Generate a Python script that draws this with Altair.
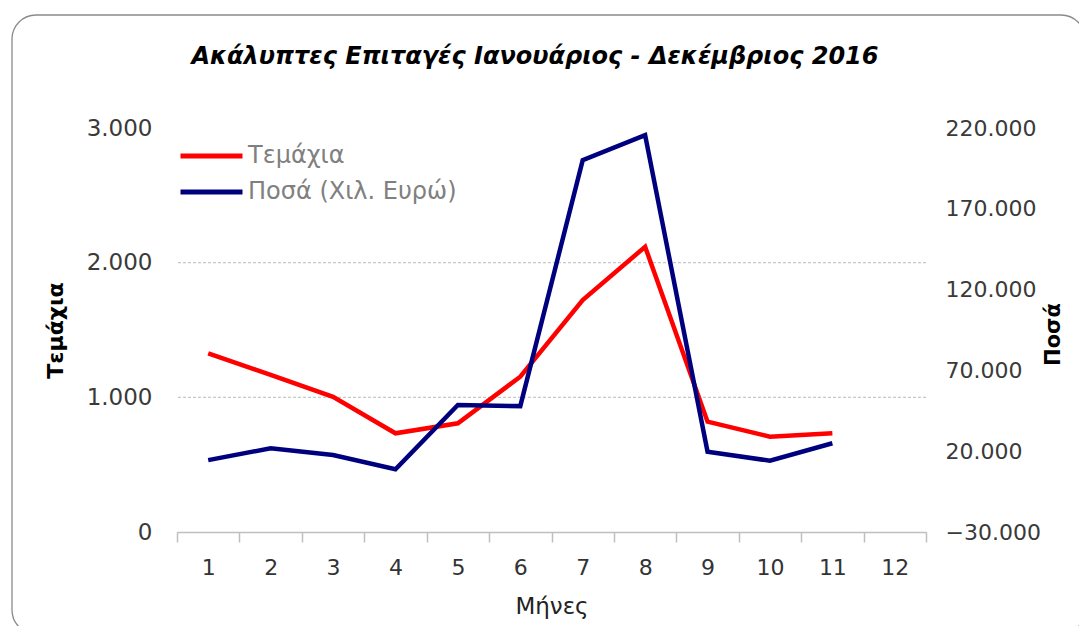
import altair as alt
import pandas as pd

# ---- data ----
months_all = [1, 2, 3, 4, 5, 6, 7, 8, 9, 10, 11, 12]
months = [1, 2, 3, 4, 5, 6, 7, 8, 9, 10, 11]
temaxia = [1327, 1166, 1004, 733, 807, 1153, 1722, 2118, 819, 708, 733]
posa = [14500, 21800, 17600, 8800, 48600, 47900, 200100, 215600, 19700, 14100, 24900]
series_names = ["Τεμάχια", "Ποσά (Χιλ. Ευρώ)"]
series_colors = ["#ff0000", "#00007f"]
left_ticks = [0, 1000, 2000, 3000]
right_ticks = [-30000, 20000, 70000, 120000, 170000, 220000]
grid_values = [1000, 2000]
chart_title = "Ακάλυπτες Επιταγές Ιανουάριος - Δεκέμβριος 2016"

df = pd.DataFrame({"month": months, "units": temaxia, "amount": posa})

W, H = 749, 404
label_expr = "replace(format(datum.value, ','), ',', '.')"
FONT = "DejaVu Sans"

x_enc = alt.X(
    "month:O",
    scale=alt.Scale(domain=months_all, paddingInner=0, paddingOuter=0),
    axis=alt.Axis(
        title="Μήνες", labelAngle=0, tickBand="extent", tickSize=10,
        tickColor="#bfbfbf", domainColor="#bfbfbf", domainWidth=1.5, tickWidth=1.5,
        labelFont=FONT, labelFontSize=22, labelColor="#333333", labelPadding=15,
        titleFont=FONT, titleFontSize=23, titleFontWeight="normal", titleColor="#222222",
        titleY=74, titleBaseline="middle", grid=False,
    ),
)

color_enc = alt.Color(
    "series:N",
    scale=alt.Scale(domain=series_names, range=series_colors),
    legend=alt.Legend(
        title=None, orient="none", legendX=1, legendY=17,
        symbolType="stroke", symbolSize=3844, symbolStrokeWidth=5,
        clipHeight=22, rowPadding=12, padding=0, labelOffset=3, labelLimit=400,
        labelFont=FONT, labelFontSize=24, labelColor="#808080",
    ),
)

grid = alt.Chart(pd.DataFrame({"g": grid_values})).mark_rule(
    color="#c8c8c8", strokeDash=[3, 2], strokeWidth=1.2
).encode(y=alt.Y("g:Q", scale=alt.Scale(domain=[0, 3000]), axis=None))

red = alt.Chart(df).mark_line(strokeWidth=4.5).transform_calculate(
    series="'Τεμάχια'"
).encode(
    x=x_enc,
    y=alt.Y(
        "units:Q",
        scale=alt.Scale(domain=[0, 3000], nice=False),
        axis=alt.Axis(
            orient="left", title="Τεμάχια", values=left_ticks, labelExpr=label_expr,
            domain=False, ticks=False, grid=False, labelPadding=25,
            labelFont=FONT, labelFontSize=23, labelColor="#3a3a3a",
            titleFont=FONT, titleFontSize=22, titleFontWeight="bold", titleColor="#000000",
            titleX=-122, titleY=H / 2, titleAngle=-90, titleBaseline="middle", titleAlign="center",
        ),
    ),
    color=color_enc,
)

blue = alt.Chart(df).mark_line(strokeWidth=4.5).transform_calculate(
    series="'Ποσά (Χιλ. Ευρώ)'"
).encode(
    x=x_enc,
    y=alt.Y(
        "amount:Q",
        scale=alt.Scale(domain=[-30000, 220000], nice=False, zero=False),
        axis=alt.Axis(
            orient="right", title="Ποσά", values=right_ticks, labelExpr=label_expr,
            domain=False, ticks=False, grid=False, labelPadding=19,
            labelFont=FONT, labelFontSize=22, labelColor="#3a3a3a",
            titleFont=FONT, titleFontSize=21, titleFontWeight="bold", titleColor="#000000",
            titleX=127, titleY=H / 2 + 4, titleAngle=-90, titleBaseline="middle", titleAlign="center",
        ),
    ),
    color=color_enc,
)

frame = alt.Chart(pd.DataFrame({"a": [0]})).mark_rect(
    fillOpacity=0, stroke="#8a8a8a", strokeWidth=1.3, cornerRadius=24
).encode(
    x=alt.value(-165), x2=alt.value(908), y=alt.value(-113), y2=alt.value(506)
)

title_mark = alt.Chart(pd.DataFrame({"t": [chart_title]})).mark_text(
    font=FONT, fontSize=24, fontWeight="bold", fontStyle="italic",
    color="#000000", align="center", baseline="middle",
).encode(text="t:N", x=alt.value(358), y=alt.value(-71))

chart = (
    alt.layer(frame, title_mark, grid, red, blue)
    .resolve_scale(y="independent")
    .properties(
        width=W,
        height=H,
        autosize=alt.AutoSizeParams(type="none"),
        padding={"left": 169, "top": 120, "right": 153, "bottom": 94},
        background="white",
    )
    .configure_view(stroke=None)
)

chart.save("out.html", embed_options={"renderer": "svg", "actions": False})
